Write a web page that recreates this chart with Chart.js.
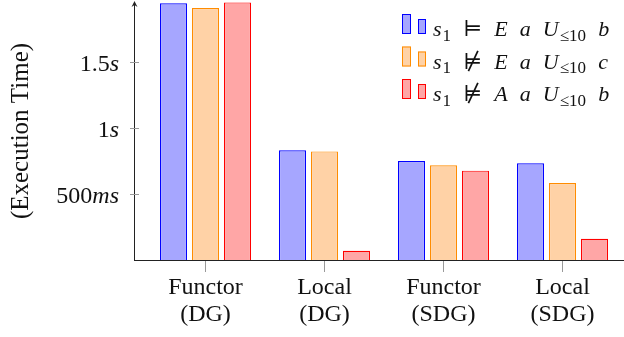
<!DOCTYPE html>
<html>
<head>
<meta charset="utf-8">
<script src="https://cdn.jsdelivr.net/npm/chart.js@4"></script>
<style>
  html, body { margin: 0; padding: 0; background: #fff; }
  #wrap { width: 624px; height: 337px; }
</style>
</head>
<body>
<div id="wrap"><canvas id="chart" width="624" height="337"></canvas></div>
<script>
// donnees (ms)
const categories = [["Functor", "(DG)"], ["Local", "(DG)"], ["Functor", "(SDG)"], ["Local", "(SDG)"]];
const seriesLabels = ["s_1 ⊨ E a U_≤10 b", "s_1 ⊭ E a U_≤10 c", "s_1 ⊭ A a U_≤10 b"];
const sEa_b = [1945, 831, 750, 733];
const nEa_c = [1909, 823, 717, 583];
const nAa_b = [1952, 70, 677, 161];
const yTicks = [500, 1000, 1500];
const yTickText = [["500", "ms"], ["1", "s"], ["1.5", "s"]];

const SERIF = "'Liberation Serif', 'DejaVu Serif', serif";
const borders = ["#0000ff", "#ff8c00", "#ff0000"];
const fills = ["rgb(166,166,255)", "rgb(255,210,166)", "rgb(255,166,166)"];

// texte math: lettres en italique, indices plus petits
function drawMath(ctx, str, x, y, size) {
  const tokens = str.split(" ");
  tokens.forEach((tok, i) => {
    const parts = tok.split("_");
    const main = parts[0];
    const italic = /^[A-Za-z]+$/.test(main);
    ctx.font = (italic ? "italic " : "") + size + "px " + SERIF;
    ctx.fillText(main, x, y);
    x += ctx.measureText(main).width;
    if (parts[1]) {
      ctx.font = Math.round(size * 0.75) + "px " + SERIF;
      ctx.fillText(parts[1], x + 1, y + size * 0.22);
      x += ctx.measureText(parts[1]).width + 1;
    }
    if (i < tokens.length - 1) x += size * 0.55;
  });
}

const axesPlugin = {
  id: "axes",
  afterDraw(chart) {
    const ctx = chart.ctx;
    const y = chart.scales.y;
    const ax = 134, base = y.getPixelForValue(0);
    ctx.save();
    // axe y avec fleche
    ctx.strokeStyle = "#222";
    ctx.lineWidth = 1;
    ctx.beginPath();
    ctx.moveTo(ax + 0.5, base);
    ctx.lineTo(ax + 0.5, 3);
    ctx.stroke();
    ctx.fillStyle = "#222";
    ctx.beginPath();
    ctx.moveTo(ax + 0.5, 1);
    ctx.lineTo(ax - 2.5, 7);
    ctx.lineTo(ax + 0.5, 5);
    ctx.lineTo(ax + 3.5, 7);
    ctx.closePath();
    ctx.fill();
    // axe x
    ctx.beginPath();
    ctx.moveTo(ax, base + 0.5);
    ctx.lineTo(624, base + 0.5);
    ctx.stroke();
    // ticks y
    ctx.strokeStyle = "#999";
    yTicks.forEach((v, i) => {
      const py = Math.round(y.getPixelForValue(v)) + 0.5;
      ctx.beginPath();
      ctx.moveTo(ax - 4, py);
      ctx.lineTo(ax + 5, py);
      ctx.stroke();
      const [num, unit] = yTickText[i];
      ctx.fillStyle = "#111";
      ctx.textBaseline = "alphabetic";
      ctx.font = "italic 24px " + SERIF;
      const wu = ctx.measureText(unit).width;
      ctx.font = "24px " + SERIF;
      const wn = ctx.measureText(num).width;
      const right = 119;
      ctx.fillText(num, right - wu - wn, py + 8);
      ctx.font = "italic 24px " + SERIF;
      ctx.fillText(unit, right - wu, py + 8);
    });
    // titre y
    ctx.save();
    ctx.translate(28, 131);
    ctx.rotate(-Math.PI / 2);
    ctx.font = "25px " + SERIF;
    ctx.textAlign = "center";
    ctx.fillStyle = "#111";
    ctx.fillText("(Execution Time)", 0, 0);
    ctx.restore();
    // legende
    chart.data.datasets.forEach((ds, i) => {
      const bottom = 34 + i * 32.5;
      ctx.fillStyle = ds.backgroundColor;
      ctx.strokeStyle = ds.borderColor;
      ctx.fillRect(402, bottom - 20, 9, 20);
      ctx.strokeRect(402.5, bottom - 19.5, 8, 19);
      ctx.fillRect(418, bottom - 15, 8, 15);
      ctx.strokeRect(418.5, bottom - 14.5, 7, 14);
      ctx.fillStyle = "#111";
      drawMath(ctx, ds.label, 433, bottom + 2, 22);
    });
    ctx.restore();
  }
};

new Chart(document.getElementById("chart"), {
  type: "bar",
  data: {
    labels: categories,
    datasets: [sEa_b, nEa_c, nAa_b].map((d, i) => ({
      label: seriesLabels[i],
      data: d,
      backgroundColor: fills[i],
      borderColor: borders[i],
      borderWidth: 1.2,
      categoryPercentage: 0.807,
      barPercentage: 0.844
    }))
  },
  options: {
    responsive: false,
    animation: false,
    layout: { padding: { left: 0, right: 2, top: 0, bottom: 0 } },
    plugins: { legend: { display: false }, tooltip: { enabled: false } },
    scales: {
      x: {
        border: { display: false },
        grid: { drawOnChartArea: false, offset: false, tickLength: 12, color: "#999" },
        ticks: { color: "#111", font: { family: SERIF, size: 24, lineHeight: 1.13 }, padding: 2, maxRotation: 0 },
        afterFit(s) { s.height = 77; }
      },
      y: {
        min: 0,
        max: 1970,
        border: { display: false },
        grid: { display: false },
        ticks: { display: false },
        afterFit(s) { s.width = 146; }
      }
    }
  },
  plugins: [axesPlugin]
});
</script>
</body>
</html>
